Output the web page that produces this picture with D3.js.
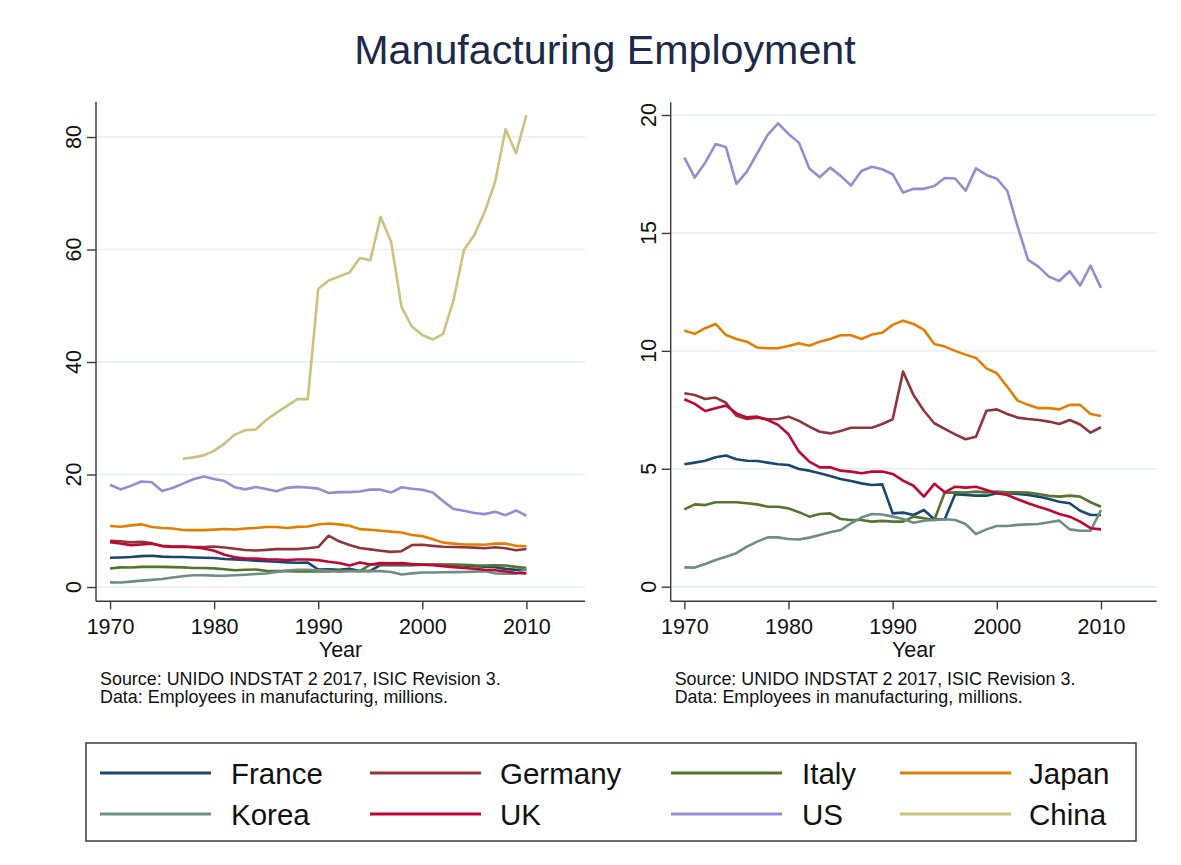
<!DOCTYPE html>
<html>
<head>
<meta charset="utf-8">
<script src="https://cdn.jsdelivr.net/npm/d3@7"></script>
<style>
  html, body { margin: 0; padding: 0; background: #ffffff; }
  svg { display: block; font-family: "Liberation Sans", Arial, Helvetica, sans-serif; }
</style>
</head>
<body>
<svg id="chart" width="1181" height="865"></svg>
<script>
// Employees in manufacturing (millions), 1970-2010
const years = d3.range(1970, 2011);

const france = [5.19,5.26,5.34,5.49,5.56,5.40,5.34,5.33,5.26,5.19,5.16,4.99,4.92,4.81,4.69,4.57,4.48,4.38,4.31,4.34,
  3.11,3.14,3.04,3.25,2.86,2.86,3.92,3.89,3.86,3.86,3.96,3.96,3.93,3.89,3.82,3.72,3.60,3.54,3.22,3.04,3.04];
const germany = [8.20,8.13,7.96,8.02,7.80,7.25,7.11,7.17,7.10,7.11,7.21,7.03,6.79,6.57,6.50,6.60,6.74,6.74,6.74,6.90,
  7.10,9.12,8.13,7.46,6.93,6.69,6.46,6.25,6.36,7.46,7.52,7.32,7.17,7.11,7.07,7.00,6.90,7.07,6.88,6.53,6.76];
const italy = [3.28,3.49,3.46,3.58,3.58,3.58,3.54,3.49,3.39,3.39,3.32,3.16,2.97,3.08,3.11,2.87,2.83,2.83,2.76,2.79,
  2.76,2.76,2.97,2.90,2.83,3.99,4.00,3.99,4.03,4.00,4.03,4.00,4.00,3.99,3.93,3.85,3.82,3.86,3.82,3.58,3.39];
const japan = [10.86,10.72,10.96,11.14,10.67,10.50,10.39,10.14,10.11,10.11,10.21,10.32,10.22,10.39,10.50,10.66,10.66,10.50,10.69,10.77,
  11.10,11.28,11.14,10.89,10.29,10.18,10.00,9.84,9.70,9.26,9.05,8.48,7.89,7.71,7.57,7.57,7.52,7.71,7.71,7.32,7.24];
const korea = [0.82,0.81,0.96,1.13,1.27,1.42,1.70,1.91,2.09,2.09,2.02,2.00,2.08,2.19,2.31,2.40,2.69,2.93,3.08,3.06,
  2.97,2.87,2.71,2.80,2.83,2.86,2.83,2.66,2.23,2.43,2.57,2.57,2.62,2.64,2.66,2.73,2.80,2.43,2.37,2.37,3.25];
const uk = [7.95,7.75,7.45,7.57,7.68,7.35,7.18,7.21,7.07,6.86,6.46,5.73,5.30,5.06,5.06,4.92,4.88,4.81,4.88,4.88,
  4.78,4.50,4.28,3.82,4.36,4.00,4.24,4.20,4.24,4.10,3.96,3.89,3.71,3.54,3.39,3.25,3.08,2.97,2.76,2.48,2.43];
const us = [18.19,17.35,17.98,18.77,18.63,17.08,17.60,18.38,19.16,19.65,19.20,18.83,17.73,17.36,17.77,17.42,17.01,17.63,17.81,17.70,
  17.49,16.71,16.87,16.87,16.99,17.33,17.31,16.79,17.74,17.46,17.30,16.79,15.27,13.86,13.57,13.15,12.96,13.38,12.77,13.61,12.67];
const china = [null,null,null,null,null,null,null,22.8,23.05,23.4,24.2,25.5,27.1,27.9,28.0,29.7,31.0,32.2,33.4,33.4,
  53.0,54.5,55.2,55.9,58.5,58.1,65.8,61.4,49.8,46.3,44.8,44.0,45.0,51.0,59.9,62.6,66.7,72.1,81.4,77.1,83.9];

const seriesNames = ["France","Germany","Italy","Japan","Korea","UK","US","China"];
const seriesValues = [france, germany, italy, japan, korea, uk, us, china];
const seriesColors = ["#1a476f","#90353b","#55752f","#e37e00","#6e8e84","#c10534","#938dd2","#cac27e"];

const xTicks = [1970, 1980, 1990, 2000, 2010];
const leftYTicks = [0, 20, 40, 60, 80];
const rightYTicks = [0, 5, 10, 15, 20];

const titleText = "Manufacturing Employment";
const axisTitle = "Year";
const noteLines = ["Source: UNIDO INDSTAT 2 2017, ISIC Revision 3.",
                   "Data: Employees in manufacturing, millions."];

const FONT = '"Liberation Sans", Arial, Helvetica, sans-serif';
const svg = d3.select("#chart");

svg.append("text")
  .attr("x", 605).attr("y", 64)
  .attr("text-anchor", "middle")
  .attr("font-size", 41.2)
  .attr("fill", "#1c2a4a")
  .text(titleText);

// Two panels: all countries, and all countries except China
const panels = [
  { plot: {x0: 96, x1: 585, y0: 101.7, y1: 601.3},
    xDom: [1968.65, 2015.63], yDom: [-2.54, 86.28],
    yTicks: leftYTicks, keys: [0,1,2,3,4,5,6,7], yLabelX: 81 },
  { plot: {x0: 670.7, x1: 1156.7, y0: 102.3, y1: 601.3},
    xDom: [1968.69, 2015.35], yDom: [-0.62, 20.54],
    yTicks: rightYTicks, keys: [0,1,2,3,4,5,6], yLabelX: 656 }
];

panels.forEach(p => {
  const g = svg.append("g");
  const x = d3.scaleLinear().domain(p.xDom).range([p.plot.x0, p.plot.x1]);
  const y = d3.scaleLinear().domain(p.yDom).range([p.plot.y1, p.plot.y0]);

  // horizontal grid
  g.append("g").selectAll("line").data(p.yTicks).join("line")
    .attr("x1", p.plot.x0).attr("x2", p.plot.x1)
    .attr("y1", d => y(d)).attr("y2", d => y(d))
    .attr("stroke", "#e5eef1").attr("stroke-width", 1.4);

  // y axis
  const yAxis = d3.axisLeft(y).tickValues(p.yTicks).tickSize(9).tickFormat("");
  const ya = g.append("g").attr("transform", `translate(${p.plot.x0},0)`).call(yAxis);
  ya.select(".domain").attr("d", `M0,${p.plot.y1}V${p.plot.y0}`);
  ya.selectAll("line, path").attr("stroke", "#3a3a3a").attr("stroke-width", 1.4);

  g.append("g").selectAll("text").data(p.yTicks).join("text")
    .attr("transform", d => `translate(${p.yLabelX},${y(d)}) rotate(-90)`)
    .attr("text-anchor", "middle")
    .attr("font-size", 21.5).attr("fill", "#111")
    .text(d => d);

  // x axis
  const xAxis = d3.axisBottom(x).tickValues(xTicks).tickSize(8).tickPadding(9)
    .tickFormat(d3.format("d"));
  const xa = g.append("g").attr("transform", `translate(0,${p.plot.y1})`).call(xAxis);
  xa.select(".domain").attr("d", `M${p.plot.x0},0H${p.plot.x1}`);
  xa.selectAll("line, path").attr("stroke", "#3a3a3a").attr("stroke-width", 1.4);
  xa.selectAll("text").attr("font-size", 21.5).attr("fill", "#111")
    .attr("font-family", FONT).attr("dy", "0.71em");

  g.append("text")
    .attr("x", (p.plot.x0 + p.plot.x1) / 2).attr("y", 657)
    .attr("text-anchor", "middle").attr("font-size", 21.5).attr("fill", "#111")
    .text(axisTitle);

  noteLines.forEach((t, i) => {
    g.append("text")
      .attr("x", p.plot.x0 + 4).attr("y", 685 + i * 18)
      .attr("font-size", 17.9).attr("fill", "#111")
      .text(t);
  });

  // series lines
  const line = d3.line()
    .defined(d => d.v != null)
    .x(d => x(d.year)).y(d => y(d.v));
  p.keys.forEach(k => {
    const pts = years.map((yr, i) => ({year: yr, v: seriesValues[k][i]}));
    g.append("path")
      .datum(pts)
      .attr("fill", "none")
      .attr("stroke", seriesColors[k])
      .attr("stroke-width", 2.6)
      .attr("stroke-linejoin", "round")
      .attr("d", line);
  });
});

// legend
const legend = svg.append("g");
legend.append("rect")
  .attr("x", 86).attr("y", 743).attr("width", 1050).attr("height", 98)
  .attr("fill", "#fff").attr("stroke", "#3a3a3a").attr("stroke-width", 1.5);

const colX = [100, 370, 671, 900];
const textX = [231, 500, 802, 1029];
const rowY = [773, 814];
seriesNames.forEach((name, i) => {
  const c = i % 4, r = Math.floor(i / 4);
  legend.append("line")
    .attr("x1", colX[c]).attr("x2", colX[c] + 111)
    .attr("y1", rowY[r]).attr("y2", rowY[r])
    .attr("stroke", seriesColors[i]).attr("stroke-width", 3);
  legend.append("text")
    .attr("x", textX[c]).attr("y", rowY[r] + 11)
    .attr("font-size", 29.5).attr("fill", "#111")
    .text(name);
});
</script>
</body>
</html>
